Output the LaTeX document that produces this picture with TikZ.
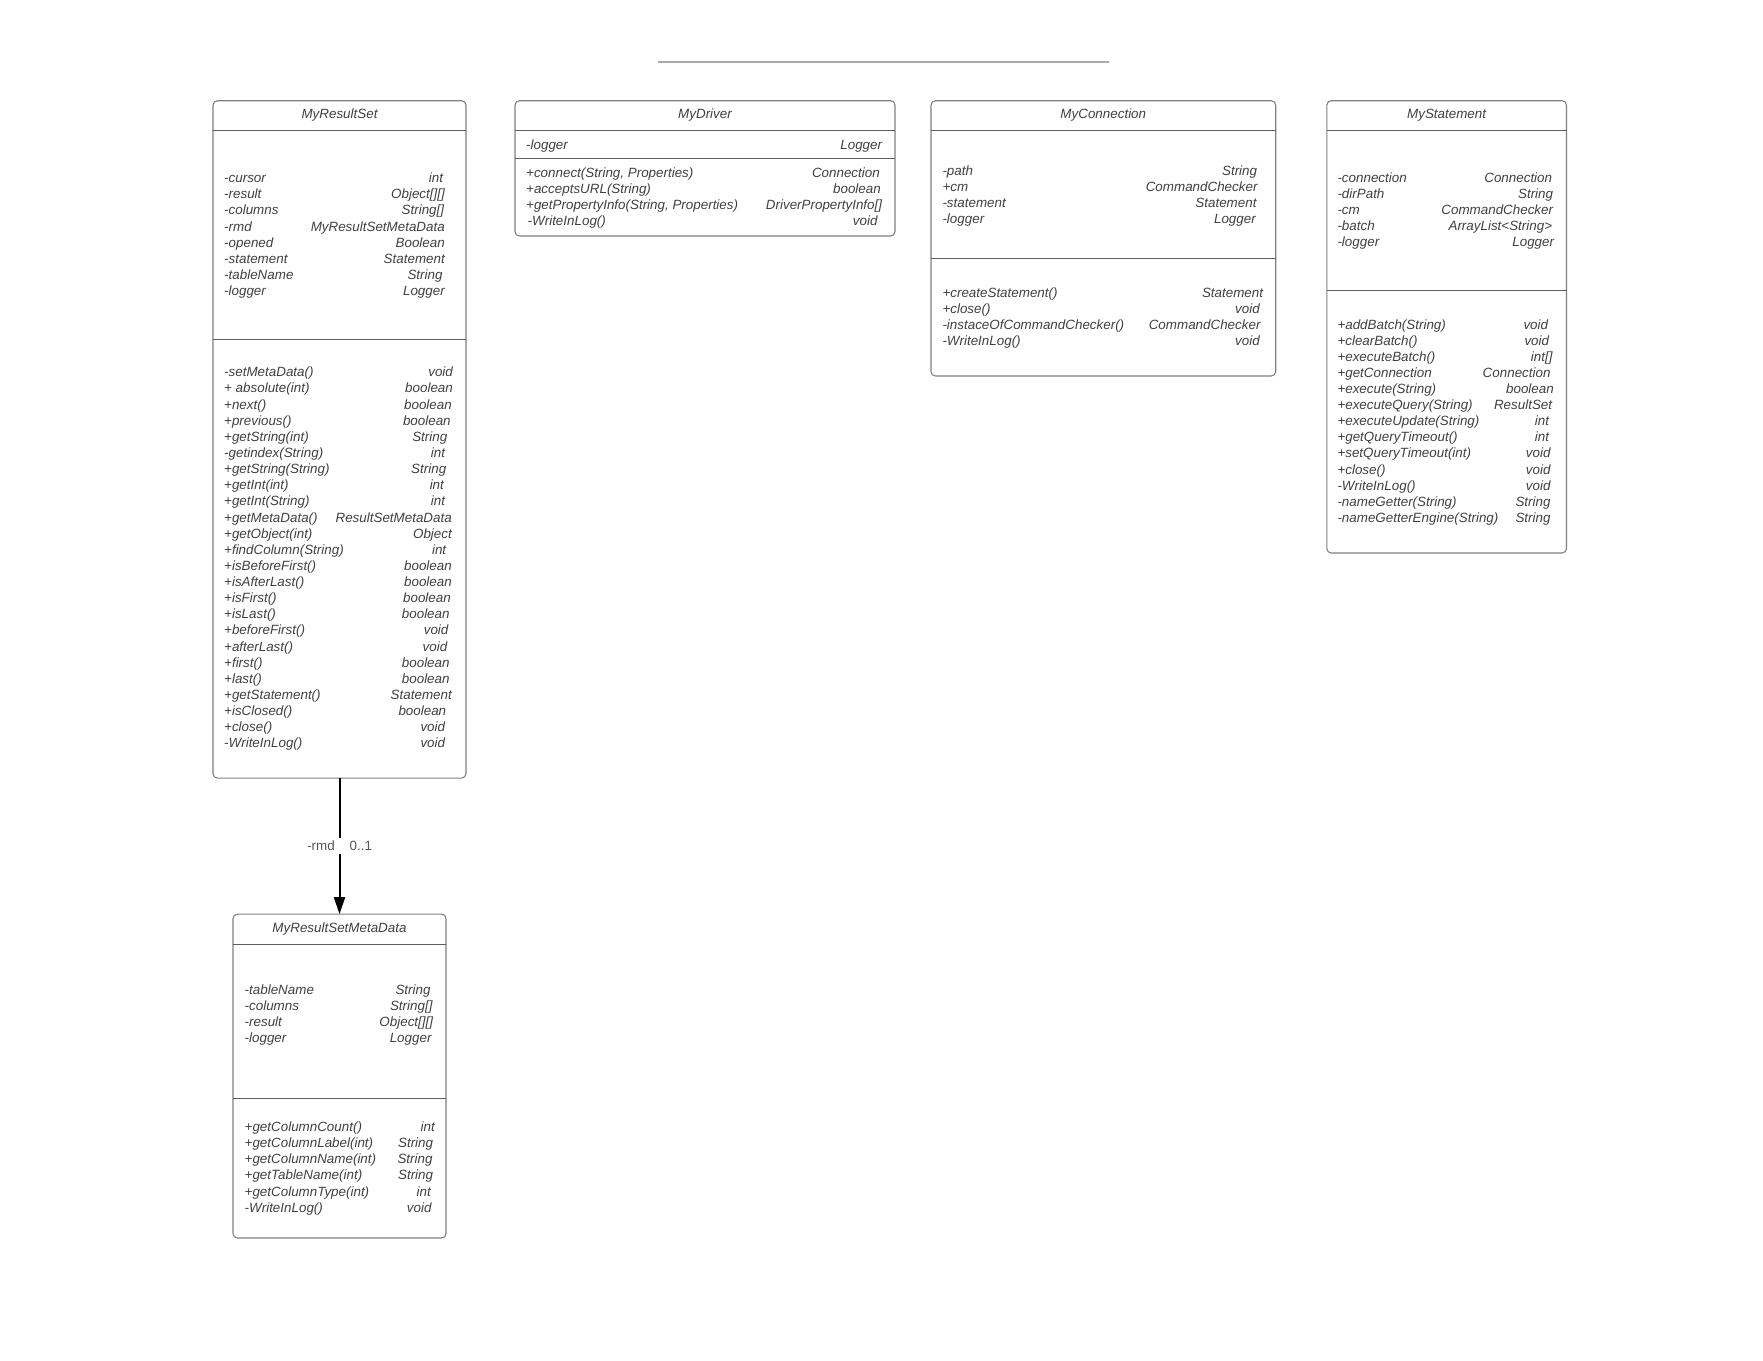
\documentclass[tikz,border=0pt]{standalone}
\usepackage{fontspec}
\setmainfont{Liberation Sans}
\usetikzlibrary{arrows.meta}

\definecolor{boxline}{HTML}{808080}
\definecolor{sepline}{HTML}{5E5E5E}
\definecolor{txt}{HTML}{404040}
\definecolor{lbltxt}{HTML}{555555}
\definecolor{rulegray}{HTML}{AAAAAA}

% one member row: name, left x, right x, y, member, type
\newcommand\umlrow[6]{%
  \node[rowtxt,anchor=mid west] (#1-l) at (#2,#4) {#5};
  \node[rowtxt,anchor=mid east] (#1-r) at (#3,#4) {#6};}

\begin{document}
\begin{tikzpicture}[x=1pt,y=-1pt,
  classbox/.style={draw=boxline,line width=1.1pt,rounded corners=4.5pt,
    inner sep=0pt,outer sep=0pt,anchor=north west},
  divider/.style={draw=sepline,line width=1pt},
  basetxt/.style={inner sep=0pt,text=txt,
    font=\itshape\fontsize{13.4}{16}\selectfont},
  rowtxt/.style={basetxt,yshift=-3.2pt},
  titletxt/.style={basetxt,anchor=mid,yshift=-1.1pt},
  lbl/.style={inner sep=0pt,text=lbltxt,yshift=-1.2pt,
    font=\fontsize{13.4}{16}\selectfont},
  assoc/.style={draw=black,line width=2pt},
]
\useasboundingbox (0,0) rectangle (1763,1360);

% rule above the classes
\draw[draw=rulegray,line width=1.3pt] (658,62) -- (1109,62);

% ---------------- MyResultSet ----------------
\node[classbox,minimum width=253pt,minimum height=677.4pt] (rs) at (213,100.7) {};
\draw[divider] (213,130.7) -- (466,130.7);
\draw[divider] (213,339.3) -- (466,339.3);
\node[titletxt] (rs-title) at (339.5,115) {MyResultSet};
\umlrow{rsa1}{224}{443.3}{177.0}{-cursor}{int}
\umlrow{rsa2}{224}{445.0}{193.1}{-result}{Object[][]}
\umlrow{rsa3}{224}{444.3}{209.1}{-columns}{String[]}
\umlrow{rsa4}{224}{445.0}{225.2}{-rmd}{MyResultSetMetaData}
\umlrow{rsa5}{224}{445.0}{241.2}{-opened}{Boolean}
\umlrow{rsa6}{224}{445.0}{257.3}{-statement}{Statement}
\umlrow{rsa7}{224}{442.7}{273.3}{-tableName}{String}
\umlrow{rsa8}{224}{445.0}{289.4}{-logger}{Logger}
\umlrow{rsm1}{224}{453.1}{371.0}{-setMetaData()}{void}
\umlrow{rsm2}{224}{453.1}{387.1}{+ absolute(int)}{boolean}
\umlrow{rsm3}{224}{452.0}{403.3}{+next()}{boolean}
\umlrow{rsm4}{224}{450.9}{419.4}{+previous()}{boolean}
\umlrow{rsm5}{224}{447.5}{435.5}{+getString(int)}{String}
\umlrow{rsm6}{224}{445.3}{451.7}{-getindex(String)}{int}
\umlrow{rsm7}{224}{446.4}{467.8}{+getString(String)}{String}
\umlrow{rsm8}{224}{444.1}{483.9}{+getInt(int)}{int}
\umlrow{rsm9}{224}{445.3}{500.0}{+getInt(String)}{int}
\umlrow{rsm10}{224}{452.0}{516.2}{+getMetaData()}{ResultSetMetaData}
\umlrow{rsm11}{224}{452.0}{532.3}{+getObject(int)}{Object}
\umlrow{rsm12}{224}{446.4}{548.4}{+findColumn(String)}{int}
\umlrow{rsm13}{224}{452.0}{564.6}{+isBeforeFirst()}{boolean}
\umlrow{rsm14}{224}{452.0}{580.7}{+isAfterLast()}{boolean}
\umlrow{rsm15}{224}{451.0}{596.8}{+isFirst()}{boolean}
\umlrow{rsm16}{224}{449.8}{613.0}{+isLast()}{boolean}
\umlrow{rsm17}{224}{448.6}{629.1}{+beforeFirst()}{void}
\umlrow{rsm18}{224}{447.5}{645.2}{+afterLast()}{void}
\umlrow{rsm19}{224}{449.8}{661.3}{+first()}{boolean}
\umlrow{rsm20}{224}{449.8}{677.5}{+last()}{boolean}
\umlrow{rsm21}{224}{452.0}{693.6}{+getStatement()}{Statement}
\umlrow{rsm22}{224}{446.4}{709.7}{+isClosed()}{boolean}
\umlrow{rsm23}{224}{445.3}{725.9}{+close()}{void}
\umlrow{rsm24}{224}{445.3}{742.0}{-WriteInLog()}{void}

% ---------------- MyDriver ----------------
\node[classbox,minimum width=380pt,minimum height=135.3pt] (dr) at (515,100.7) {};
\draw[divider] (515,130.5) -- (895,130.5);
\draw[divider] (515,158.3) -- (895,158.3);
\node[titletxt] (dr-title) at (705,115) {MyDriver};
\umlrow{dra1}{526}{882.3}{143.5}{-logger}{Logger}
\umlrow{drm1}{526}{880.0}{171.2}{+connect(String, Properties)}{Connection}
\umlrow{drm2}{526}{881.0}{187.3}{+acceptsURL(String)}{boolean}
\umlrow{drm3}{526}{882.3}{203.3}{+getPropertyInfo(String, Properties)}{DriverPropertyInfo[]}
\umlrow{drm4}{527.5}{877.7}{219.2}{-WriteInLog()}{void}

% ---------------- MyConnection ----------------
\node[classbox,minimum width=344.7pt,minimum height=275.3pt] (cn) at (931,100.7) {};
\draw[divider] (931,130.7) -- (1275.7,130.7);
\draw[divider] (931,258.3) -- (1275.7,258.3);
\node[titletxt] (cn-title) at (1103.3,115) {MyConnection};
\umlrow{cna1}{942.3}{1257.3}{169.3}{-path}{String}
\umlrow{cna2}{942.3}{1257.7}{185.2}{+cm}{CommandChecker}
\umlrow{cna3}{942.3}{1256.7}{201.2}{-statement}{Statement}
\umlrow{cna4}{942.3}{1256.0}{217.2}{-logger}{Logger}
\umlrow{cnm1}{942.3}{1263.3}{291.7}{+createStatement()}{Statement}
\umlrow{cnm2}{942.3}{1260.0}{307.7}{+close()}{void}
\umlrow{cnm3}{942.3}{1260.7}{323.5}{-instaceOfCommandChecker()}{CommandChecker}
\umlrow{cnm4}{942.3}{1260.0}{339.4}{-WriteInLog()}{void}

% ---------------- MyStatement ----------------
\node[classbox,minimum width=239.7pt,minimum height=452.3pt] (st) at (1326.8,100.7) {};
\draw[divider] (1326.8,130.7) -- (1566.5,130.7);
\draw[divider] (1326.8,290.1) -- (1566.5,290.1);
\node[titletxt] (st-title) at (1446.6,115) {MyStatement};
\umlrow{sta1}{1337.3}{1552.3}{177.0}{-connection}{Connection}
\umlrow{sta2}{1337.3}{1553.3}{193.0}{-dirPath}{String}
\umlrow{sta3}{1337.3}{1553.3}{209.0}{-cm}{CommandChecker}
\umlrow{sta4}{1337.3}{1552.3}{225.0}{-batch}{ArrayList<String>}
\umlrow{sta5}{1337.3}{1554.3}{241.0}{-logger}{Logger}
\umlrow{stm1}{1337.3}{1548.3}{323.3}{+addBatch(String)}{void}
\umlrow{stm2}{1337.3}{1549.3}{339.4}{+clearBatch()}{void}
\umlrow{stm3}{1337.3}{1552.7}{355.5}{+executeBatch()}{int[]}
\umlrow{stm4}{1337.3}{1550.7}{371.6}{+getConnection}{Connection}
\umlrow{stm5}{1337.3}{1554.0}{387.7}{+execute(String)}{boolean}
\umlrow{stm6}{1337.3}{1552.3}{403.8}{+executeQuery(String)}{ResultSet}
\umlrow{stm7}{1337.3}{1549.3}{419.9}{+executeUpdate(String)}{int}
\umlrow{stm8}{1337.3}{1549.3}{436.0}{+getQueryTimeout()}{int}
\umlrow{stm9}{1337.3}{1550.7}{452.1}{+setQueryTimeout(int)}{void}
\umlrow{stm10}{1337.3}{1550.7}{468.2}{+close()}{void}
\umlrow{stm11}{1337.3}{1550.7}{484.3}{-WriteInLog()}{void}
\umlrow{stm12}{1337.3}{1550.7}{500.4}{-nameGetter(String)}{String}
\umlrow{stm13}{1337.3}{1550.7}{516.5}{-nameGetterEngine(String)}{String}

% ---------------- MyResultSetMetaData ----------------
\node[classbox,minimum width=213pt,minimum height=323.9pt] (md) at (233,914.1) {};
\draw[divider] (233,944.5) -- (446,944.5);
\draw[divider] (233,1098.5) -- (446,1098.5);
\node[titletxt] (md-title) at (339.5,928.5) {MyResultSetMetaData};
\umlrow{mda1}{244.5}{430.7}{988.3}{-tableName}{String}
\umlrow{mda2}{244.5}{432.7}{1004.3}{-columns}{String[]}
\umlrow{mda3}{244.5}{433.3}{1020.3}{-result}{Object[][]}
\umlrow{mda4}{244.5}{431.7}{1036.3}{-logger}{Logger}
\umlrow{mdm1}{244.5}{435.0}{1125.5}{+getColumnCount()}{int}
\umlrow{mdm2}{244.5}{433.3}{1141.7}{+getColumnLabel(int)}{String}
\umlrow{mdm3}{244.5}{432.7}{1157.9}{+getColumnName(int)}{String}
\umlrow{mdm4}{244.5}{433.3}{1174.1}{+getTableName(int)}{String}
\umlrow{mdm5}{244.5}{431.0}{1190.3}{+getColumnType(int)}{int}
\umlrow{mdm6}{244.5}{431.7}{1206.5}{-WriteInLog()}{void}

% ---------------- association rmd ----------------
\coordinate (gapA) at (339.5,838);
\coordinate (gapB) at (339.5,853.5);
\draw[assoc] (rs.south) -- (gapA);
\draw[assoc,-{Triangle[length=17pt,width=11pt]}] (gapB) -- (md.north);
\node[lbl,anchor=mid east] (rmd-role) at (335,847) {-rmd};
\node[lbl,anchor=mid west] (rmd-mult) at (349.5,847) {0..1};
\end{tikzpicture}
\end{document}
